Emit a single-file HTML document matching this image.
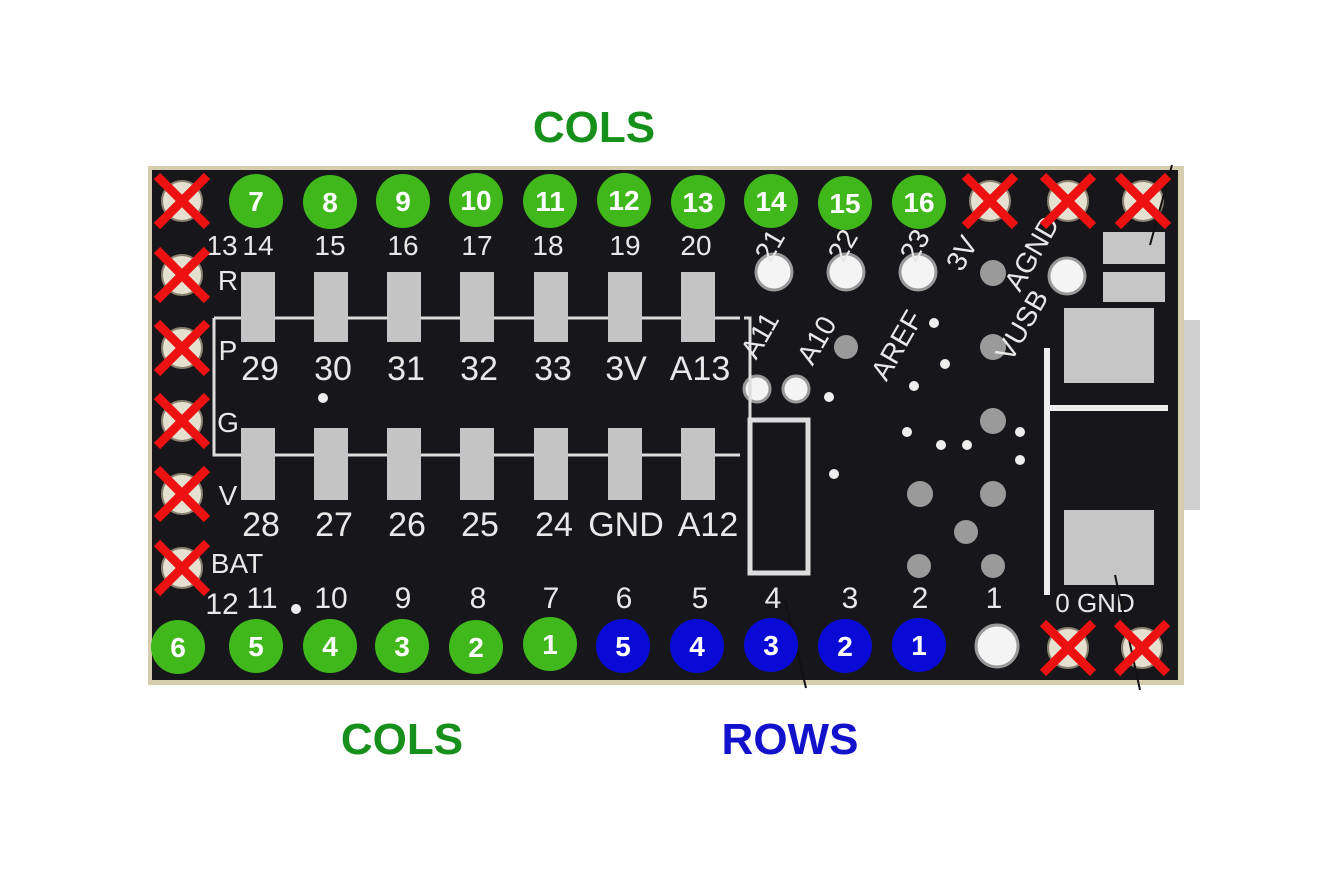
<!DOCTYPE html>
<html><head><style>
html,body{margin:0;padding:0;background:#fff;width:1338px;height:885px;overflow:hidden}
svg{display:block}
.w{font-family:"Liberation Sans",sans-serif;font-weight:bold;fill:#fff;text-anchor:middle}
.s{font-family:"Liberation Sans",sans-serif;fill:#e8e8e8;text-anchor:middle}
</style></head><body>
<svg width="1338" height="885" viewBox="0 0 1338 885" xmlns="http://www.w3.org/2000/svg">
<rect x="1178" y="320" width="22" height="190" fill="#cfcfcf"/>
<rect x="148" y="166" width="1036" height="519" fill="#d6ccae"/>
<rect x="152" y="170" width="1026" height="510" fill="#17171b"/>
<g fill="#e6e0d0" stroke="#8a8270" stroke-width="2">
<circle cx="182" cy="201" r="20"/><circle cx="182" cy="275" r="20"/><circle cx="182" cy="348" r="20"/>
<circle cx="182" cy="421" r="20"/><circle cx="182" cy="494" r="20"/><circle cx="182" cy="568" r="20"/>
<circle cx="990" cy="201" r="20"/><circle cx="1068" cy="201" r="20"/><circle cx="1143" cy="201" r="20"/>
<circle cx="1068" cy="648" r="20"/><circle cx="1142" cy="648" r="20"/>
</g>
<g fill="#f4f4f4" stroke="#999" stroke-width="3">
<circle cx="774" cy="272" r="18"/><circle cx="846" cy="272" r="18"/><circle cx="918" cy="272" r="18"/><circle cx="1067" cy="276" r="18"/>
<circle cx="997" cy="646" r="21"/>
<circle cx="757" cy="389" r="13"/><circle cx="796" cy="389" r="13"/>
</g>
<g fill="#9a9a9a">
<circle cx="993" cy="273" r="13"/><circle cx="846" cy="347" r="12"/><circle cx="993" cy="347" r="13"/>
<circle cx="993" cy="421" r="13"/><circle cx="993" cy="494" r="13"/><circle cx="920" cy="494" r="13"/>
<circle cx="966" cy="532" r="12"/><circle cx="919" cy="566" r="12"/><circle cx="993" cy="566" r="12"/>
</g>
<g fill="#eee">
<circle cx="934" cy="323" r="5"/><circle cx="945" cy="364" r="5"/><circle cx="907" cy="432" r="5"/><circle cx="941" cy="445" r="5"/>
<circle cx="967" cy="445" r="5"/><circle cx="1020" cy="432" r="5"/><circle cx="1020" cy="460" r="5"/><circle cx="834" cy="474" r="5"/>
<circle cx="829" cy="397" r="5"/><circle cx="914" cy="386" r="5"/><circle cx="323" cy="398" r="5"/><circle cx="296" cy="609" r="5"/>
</g>
<rect x="1064" y="308" width="90" height="75" fill="#c6c6c6"/>
<rect x="1064" y="510" width="90" height="75" fill="#c6c6c6"/>
<rect x="1103" y="232" width="62" height="32" fill="#c6c6c6"/>
<rect x="1103" y="272" width="62" height="30" fill="#c6c6c6"/>
<path d="M1047 348 V595 M1047 408 H1168" stroke="#eee" stroke-width="6" fill="none"/>
<path d="M744 318 H750 V455 M214 318 V455 H740" stroke="#ddd" stroke-width="3" fill="none"/>
<path d="M214 318 H740" stroke="#ddd" stroke-width="3" fill="none"/>
<rect x="750" y="420" width="58" height="153" fill="none" stroke="#ddd" stroke-width="5"/>
<g fill="#c4c4c4">
<rect x="241" y="272" width="34" height="70"/><rect x="314" y="272" width="34" height="70"/><rect x="387" y="272" width="34" height="70"/>
<rect x="460" y="272" width="34" height="70"/><rect x="534" y="272" width="34" height="70"/><rect x="608" y="272" width="34" height="70"/><rect x="681" y="272" width="34" height="70"/>
<rect x="241" y="428" width="34" height="72"/><rect x="314" y="428" width="34" height="72"/><rect x="387" y="428" width="34" height="72"/>
<rect x="460" y="428" width="34" height="72"/><rect x="534" y="428" width="34" height="72"/><rect x="608" y="428" width="34" height="72"/><rect x="681" y="428" width="34" height="72"/>
</g>
<g class="s" font-size="28">
<text x="222" y="255">13</text><text x="258" y="255">14</text><text x="330" y="255">15</text><text x="403" y="255">16</text><text x="477" y="255">17</text><text x="548" y="255">18</text><text x="625" y="255">19</text><text x="696" y="255">20</text>
<text x="228" y="290">R</text><text x="228" y="360">P</text><text x="228" y="432">G</text><text x="228" y="505">V</text><text x="237" y="573">BAT</text>
</g>
<g class="s" font-size="34">
<text x="260" y="380">29</text><text x="333" y="380">30</text><text x="406" y="380">31</text><text x="479" y="380">32</text><text x="553" y="380">33</text><text x="626" y="380">3V</text><text x="700" y="380">A13</text>
<text x="261" y="536">28</text><text x="334" y="536">27</text><text x="407" y="536">26</text><text x="480" y="536">25</text><text x="554" y="536">24</text><text x="626" y="536">GND</text><text x="708" y="536">A12</text>
</g>
<g class="s" font-size="30">
<text x="222" y="614">12</text><text x="262" y="608">11</text><text x="331" y="608">10</text><text x="403" y="608">9</text><text x="478" y="608">8</text><text x="551" y="608">7</text>
<text x="624" y="608">6</text><text x="700" y="608">5</text><text x="773" y="608">4</text><text x="850" y="608">3</text><text x="920" y="608">2</text><text x="994" y="608">1</text>
<text x="1095" y="612" font-size="26">0 GND</text>
</g>
<g class="s" font-size="28">
<text transform="translate(778,250) rotate(-60)">21</text>
<text transform="translate(851,250) rotate(-60)">22</text>
<text transform="translate(923,250) rotate(-60)">23</text>
<text transform="translate(970,258) rotate(-60)">3V</text>
<text transform="translate(1040,258) rotate(-60)">AGND</text>
<text transform="translate(1030,330) rotate(-60)">VUSB</text>
<text transform="translate(768,340) rotate(-60)">A11</text>
<text transform="translate(825,345) rotate(-60)">A10</text>
<text transform="translate(905,350) rotate(-60)">AREF</text>
</g>
<path d="M1172 165 L1150 245 M785 600 L806 688 M1115 575 L1140 690" stroke="#111" stroke-width="2"/>
<g stroke="#ee1111" stroke-width="9" stroke-linecap="butt">
<path d="M157 176 L207 226 M207 176 L157 226"/>
<path d="M157 250 L207 300 M207 250 L157 300"/>
<path d="M157 323 L207 373 M207 323 L157 373"/>
<path d="M157 396 L207 446 M207 396 L157 446"/>
<path d="M157 469 L207 519 M207 469 L157 519"/>
<path d="M157 543 L207 593 M207 543 L157 593"/>
<path d="M965 176 L1015 226 M1015 176 L965 226"/>
<path d="M1043 176 L1093 226 M1093 176 L1043 226"/>
<path d="M1118 176 L1168 226 M1168 176 L1118 226"/>
<path d="M1043 623 L1093 673 M1093 623 L1043 673"/>
<path d="M1117 623 L1167 673 M1167 623 L1117 673"/>
</g>
<g fill="#40b81c">
<circle cx="256" cy="201" r="27"/><circle cx="330" cy="202" r="27"/><circle cx="403" cy="201" r="27"/><circle cx="476" cy="200" r="27"/><circle cx="550" cy="201" r="27"/>
<circle cx="624" cy="200" r="27"/><circle cx="698" cy="202" r="27"/><circle cx="771" cy="201" r="27"/><circle cx="845" cy="203" r="27"/><circle cx="919" cy="202" r="27"/>
<circle cx="178" cy="647" r="27"/><circle cx="256" cy="646" r="27"/><circle cx="330" cy="646" r="27"/><circle cx="402" cy="646" r="27"/><circle cx="476" cy="647" r="27"/><circle cx="550" cy="644" r="27"/>
</g>
<g fill="#0a0ad6">
<circle cx="623" cy="646" r="27"/><circle cx="697" cy="646" r="27"/><circle cx="771" cy="645" r="27"/><circle cx="845" cy="646" r="27"/><circle cx="919" cy="645" r="27"/>
</g>
<g class="w" font-size="28">
<text x="256" y="211">7</text><text x="330" y="212">8</text><text x="403" y="211">9</text><text x="476" y="210">10</text><text x="550" y="211">11</text>
<text x="624" y="210">12</text><text x="698" y="212">13</text><text x="771" y="211">14</text><text x="845" y="213">15</text><text x="919" y="212">16</text>
<text x="178" y="657">6</text><text x="256" y="656">5</text><text x="330" y="656">4</text><text x="402" y="656">3</text><text x="476" y="657">2</text><text x="550" y="654">1</text>
<text x="623" y="656">5</text><text x="697" y="656">4</text><text x="771" y="655">3</text><text x="845" y="656">2</text><text x="919" y="655">1</text>
</g>
<g font-family="Liberation Sans,sans-serif" font-weight="bold" font-size="44" text-anchor="middle">
<text x="594" y="142" fill="#16901a">COLS</text>
<text x="402" y="754" fill="#16901a">COLS</text>
<text x="790" y="754" fill="#1212cc">ROWS</text>
</g>
</svg>
</body></html>
